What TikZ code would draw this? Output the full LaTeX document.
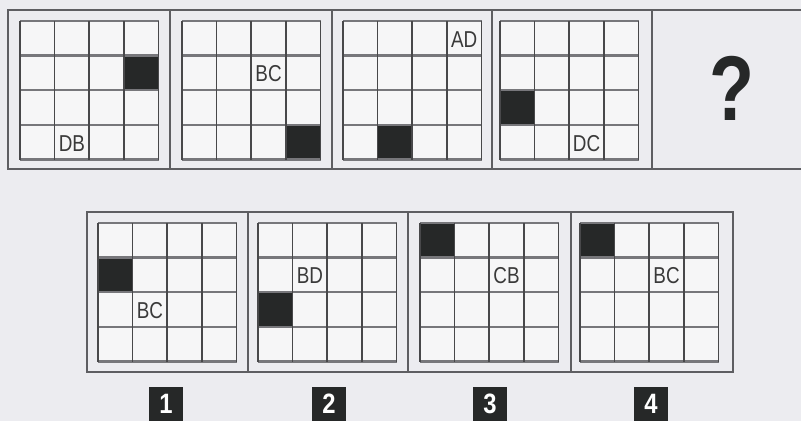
\documentclass[tikz,border=0pt]{standalone}
\usepackage{fontspec}
\setmainfont{Liberation Sans}
\definecolor{bgcol}{HTML}{ECECF0}
\definecolor{cellcol}{HTML}{F6F6F7}
\definecolor{framecol}{HTML}{5E5E62}
\definecolor{vlinecol}{HTML}{48484A}
\definecolor{hlinecol}{HTML}{77777B}
\definecolor{darkcell}{HTML}{262828}
\definecolor{textcol}{HTML}{3A3A3A}
\newcommand\cs{34.625}
\newcommand\drawgrid[8]{%
  \begin{scope}[shift={(#1,#2)}]
    \fill[cellcol] (0,0) rectangle (138.5,138.5);
    \fill[darkcell] ({(#3-1)*\cs},{(#4-1)*\cs}) rectangle ++(\cs,\cs);
    \foreach \i in {0,...,4}{\draw[hline] (0,\i*\cs) -- (138.5,\i*\cs);}
    \foreach \i in {0,...,4}{\draw[vline] (\i*\cs,0) -- (\i*\cs,138.5);}
    \node[lbl] (#8) at ({(#5-0.5)*\cs},{(#6-0.5)*\cs+1}) {\scalebox{0.82}[1]{#7}};
  \end{scope}}
\begin{document}
\begin{tikzpicture}[x=1pt,y=-1pt,
  frame/.style={draw=framecol,line width=2.4pt},
  hline/.style={draw=hlinecol,line width=2.4pt},
  vline/.style={draw=vlinecol,line width=1.7pt},
  lbl/.style={inner sep=0pt,text=textcol,font=\fontsize{23}{23}\selectfont},
  numbox/.style={fill=darkcell,text=white,minimum width=34pt,minimum height=34pt,inner sep=0pt,
    font=\fontsize{28}{28}\selectfont\bfseries}]
\fill[bgcol] (0,0) rectangle (801,421);
\useasboundingbox (0,0) rectangle (801,421);
% top row frame
\draw[frame] (801,10) -- (8,10) -- (8,169) -- (801,169);
\foreach \x in {170,332,492,652}{\draw[frame] (\x,10) -- (\x,169);}
% top grids
\drawgrid{20}{21}{4}{2}{2}{4}{DB}{t1}
\drawgrid{182}{21}{4}{4}{3}{2}{BC}{t2}
\drawgrid{343}{21}{2}{4}{4}{1}{AD}{t3}
\drawgrid{500}{21}{1}{3}{3}{4}{DC}{t4}
\node[text=darkcell,inner sep=0pt,font=\fontsize{92}{92}\selectfont\bfseries] (q) at (731.5,88) {\scalebox{0.8}[1]{?}};
% bottom row frame
\draw[frame] (87,212) rectangle (733,372);
\foreach \x in {248,408,571}{\draw[frame] (\x,212) -- (\x,372);}
\drawgrid{98}{223}{1}{2}{2}{3}{BC}{o1}
\drawgrid{258}{223}{1}{3}{2}{2}{BD}{o2}
\drawgrid{420}{223}{1}{1}{3}{2}{CB}{o3}
\drawgrid{580}{223}{1}{1}{3}{2}{BC}{o4}
% option numbers
\node[numbox] (n1) at (166,404) {\scalebox{0.85}[1]{1}};
\node[numbox] (n2) at (329,404) {\scalebox{0.85}[1]{2}};
\node[numbox] (n3) at (490,404) {\scalebox{0.85}[1]{3}};
\node[numbox] (n4) at (651,404) {\scalebox{0.85}[1]{4}};
\end{tikzpicture}
\end{document}
